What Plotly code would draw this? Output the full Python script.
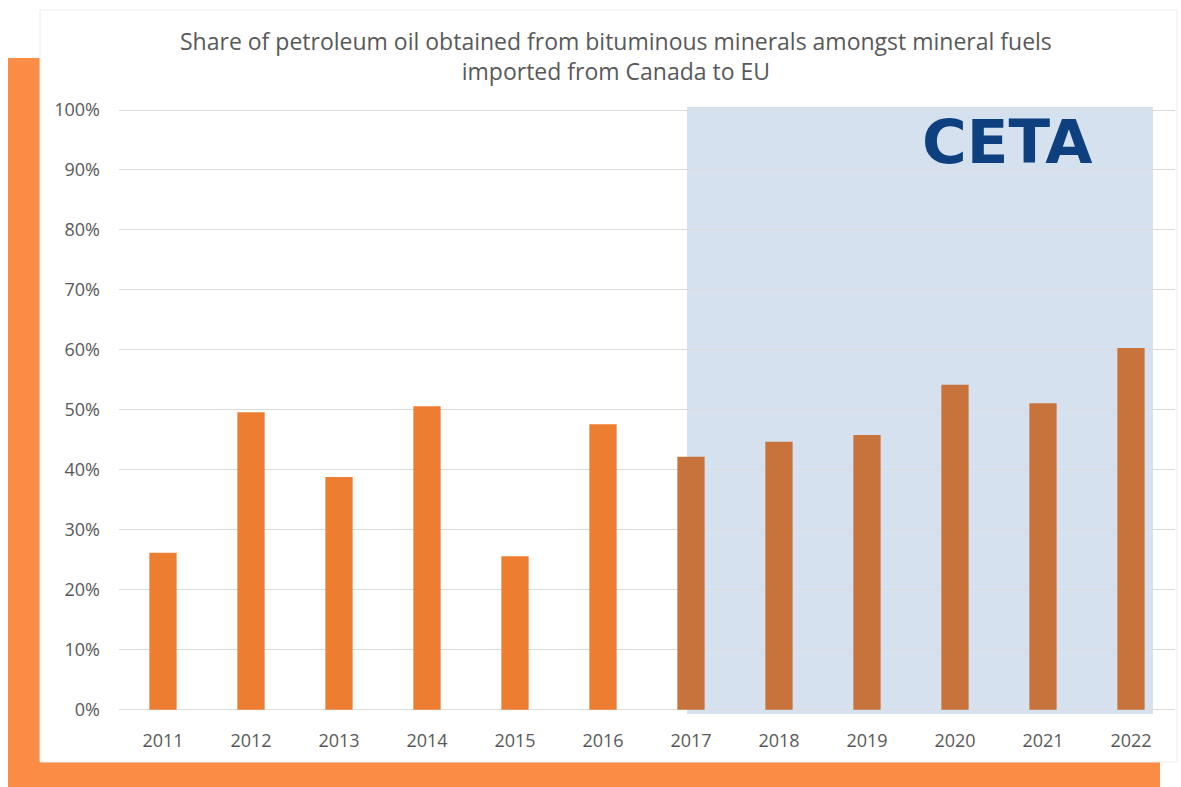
import plotly.graph_objects as go

years = ["2011", "2012", "2013", "2014", "2015", "2016",
         "2017", "2018", "2019", "2020", "2021", "2022"]
share = [26.2, 49.6, 38.8, 50.6, 25.6, 47.6, 42.2, 44.7, 45.8, 54.2, 51.1, 60.3]
ceta_years = ["2017", "2018", "2019", "2020", "2021", "2022"]
y_ticks = [0, 10, 20, 30, 40, 50, 60, 70, 80, 90, 100]
y_tick_text = [f"{v}%" for v in y_ticks]

title = ("Share of petroleum oil obtained from bituminous minerals amongst mineral fuels"
         "<br>imported from Canada to EU")

bar_colors = ["#C8733C" if y in ceta_years else "#ED7D31" for y in years]

fig = go.Figure()
fig.add_trace(go.Bar(x=years, y=share, marker=dict(color=bar_colors, line=dict(width=0)),
                     hoverinfo="x+y"))

grey = "#595959"
font_family = "Open Sans"
ceta_start = years.index(ceta_years[0])

# plot area in pixels: x 119..1175, y 107..714
L, R, T, B = 119, 1175, 107, 714
W, H = R - L, B - T


def px(x):
    return (x - L) / W


def py(y):
    return (B - y) / H


fig.update_layout(
    width=1181, height=787,
    margin=dict(l=L, r=1181 - R, t=T, b=787 - B),
    paper_bgcolor="white",
    plot_bgcolor="rgba(0,0,0,0)",
    showlegend=False,
    bargap=0.69,
    font=dict(family=font_family, color=grey),
    xaxis=dict(type="category", showgrid=False, zeroline=False, showline=False,
               tickfont=dict(size=18, color=grey), ticks="", ticklabelstandoff=14,
               range=[-0.5, len(years) - 0.5]),
    yaxis=dict(range=[-0.7, 100.5], tickvals=y_ticks, ticktext=y_tick_text,
               showgrid=True, gridcolor="#DCDCDC", gridwidth=1, zeroline=False,
               showline=False, ticks="", ticklabelstandoff=18,
               tickfont=dict(size=18, color=grey)),
    shapes=[
        dict(type="rect", xref="paper", yref="paper", layer="below",
             x0=px(8), x1=px(1160), y0=py(787), y1=py(58),
             fillcolor="#FB8C46", line=dict(width=0)),
        dict(type="rect", xref="paper", yref="paper", layer="below",
             x0=px(40), x1=px(1177), y0=py(762), y1=py(10),
             fillcolor="white", line=dict(width=1, color="#ECECEC")),
        dict(type="rect", xref="x", yref="y", layer="below",
             x0=ceta_start - 0.045, x1=len(years) - 0.75, y0=-0.7, y1=100.5,
             fillcolor="#D5E1EE", line=dict(width=0)),
    ],
    annotations=[
        dict(text=title, xref="paper", yref="paper", x=px(616),
             y=py(56), xanchor="center", yanchor="middle",
             showarrow=False, align="center",
             font=dict(size=23, color=grey, family=font_family)),
        dict(text="<b>CETA</b>", xref="paper", yref="paper",
             x=px(1007), y=py(141),
             xanchor="center", yanchor="middle", showarrow=False,
             font=dict(size=61, color="#0E3F7E", family="DejaVu Sans")),
    ],
)

fig.write_html("out.html")
